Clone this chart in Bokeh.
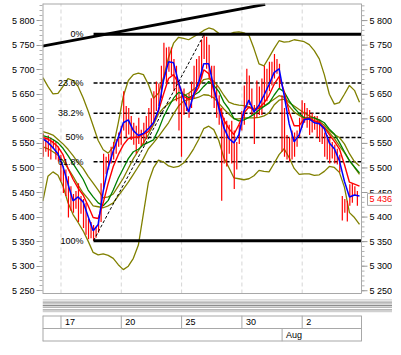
from bokeh.plotting import figure
from bokeh.models import Range1d, FixedTicker, LinearAxis
from bokeh.layouts import column
from bokeh.embed import file_html
from bokeh.resources import INLINE
from bokeh.core.properties import value

FONT = "Liberation Sans"

# ---------------- data ----------------
# time axis in trading days from 16 Jul (day 0) ; day boundaries labelled below
date_ticks = [1, 4, 7, 10, 13]
date_labels = ["17", "20", "25", "30", "2"]
month_ticks = [12]
month_labels = ["Aug"]
price_ticks = [5250, 5300, 5350, 5400, 5450, 5500, 5550, 5600, 5650, 5700, 5750, 5800]

bars_per_day = 8
first_bar_day = 0.12
bar_high = [5570, 5562, 5566, 5562, 5557, 5553, 5543, 5527, 5503, 5497,
            5483, 5463, 5447, 5453, 5469, 5443, 5437, 5429, 5397, 5390,
            5384, 5380, 5394, 5469, 5529, 5523, 5529, 5543, 5553, 5559,
            5572, 5586, 5656, 5626, 5622, 5606, 5592, 5586, 5602, 5578,
            5592, 5606, 5622, 5642, 5656, 5676, 5672, 5708, 5755, 5745,
            5747, 5745, 5722, 5708, 5676, 5648, 5662, 5648, 5652, 5676,
            5708, 5722, 5728, 5761, 5772, 5767, 5751, 5708, 5708, 5668,
            5648, 5622, 5602, 5596, 5588, 5596, 5576, 5553, 5588, 5616,
            5668, 5702, 5688, 5662, 5628, 5678, 5666, 5682, 5708, 5702,
            5716, 5716, 5732, 5722, 5712, 5648, 5622, 5567, 5562, 5576,
            5572, 5576, 5602, 5638, 5632, 5622, 5618, 5612, 5606, 5606,
            5598, 5586, 5572, 5567, 5562, 5553, 5547, 5539, 5527, 5443,
            5437, 5433, 5467, 5469, 5463, 5453]
bar_low = [5523, 5533, 5523, 5517, 5539, 5517, 5513, 5473, 5449, 5443,
           5399, 5413, 5409, 5417, 5390, 5407, 5378, 5364, 5355, 5357,
           5352, 5358, 5368, 5390, 5457, 5487, 5497, 5509, 5517, 5529,
           5543, 5547, 5576, 5562, 5568, 5557, 5547, 5529, 5549, 5543,
           5549, 5559, 5582, 5588, 5596, 5616, 5626, 5642, 5682, 5672,
           5696, 5688, 5656, 5636, 5576, 5523, 5608, 5616, 5602, 5622,
           5642, 5656, 5676, 5682, 5722, 5702, 5682, 5642, 5622, 5602,
           5588, 5433, 5509, 5503, 5529, 5509, 5457, 5497, 5549, 5576,
           5588, 5622, 5628, 5608, 5549, 5602, 5608, 5608, 5628, 5636,
           5656, 5668, 5682, 5692, 5662, 5533, 5523, 5517, 5513, 5517,
           5523, 5543, 5562, 5582, 5592, 5582, 5567, 5572, 5578, 5562,
           5553, 5549, 5523, 5517, 5509, 5519, 5509, 5507, 5491, 5393,
           5409, 5391, 5423, 5429, 5443, 5423]
last_close = 5436

line_start_day = 0.1
line_step_day = 0.25
ma_fast = [5559, 5552, 5541, 5529, 5503, 5467, 5433, 5441, 5431, 5401,
           5372, 5385, 5453, 5501, 5535, 5562, 5592, 5598, 5576, 5566,
           5570, 5580, 5592, 5618, 5678, 5716, 5714, 5674, 5640, 5614,
           5650, 5674, 5712, 5712, 5664, 5622, 5582, 5560, 5551, 5568,
           5616, 5638, 5614, 5628, 5648, 5670, 5694, 5702, 5648, 5590,
           5553, 5568, 5598, 5600, 5592, 5590, 5580, 5551, 5539, 5515,
           5473, 5441, 5445, 5443]
ma_mid = [5562, 5559, 5552, 5543, 5527, 5499, 5477, 5459, 5445, 5423,
          5399, 5397, 5429, 5469, 5503, 5527, 5547, 5560, 5562, 5563,
          5569, 5574, 5592, 5616, 5650, 5682, 5690, 5672, 5646, 5640,
          5648, 5664, 5700, 5692, 5658, 5628, 5598, 5580, 5568, 5588,
          5612, 5624, 5618, 5622, 5632, 5648, 5670, 5686, 5656, 5614,
          5586, 5586, 5600, 5602, 5596, 5593, 5582, 5568, 5554, 5539,
          5507, 5471, 5467, 5463]
ma_slow = [5566, 5563, 5558, 5551, 5540, 5525, 5509, 5493, 5477, 5455,
           5441, 5429, 5423, 5434, 5455, 5479, 5499, 5519, 5533, 5538,
           5547, 5552, 5557, 5578, 5604, 5624, 5642, 5654, 5650, 5643,
           5648, 5654, 5666, 5676, 5668, 5656, 5634, 5620, 5601, 5596,
           5598, 5603, 5609, 5618, 5625, 5632, 5648, 5662, 5655, 5637,
           5622, 5611, 5602, 5602, 5602, 5598, 5592, 5579, 5569, 5552,
           5533, 5515, 5502, 5490]
band_outer_upper = [5684, 5666, 5651, 5652, 5666, 5682, 5678, 5666, 5643, 5616,
                    5586, 5556, 5537, 5530, 5543, 5592, 5646, 5678, 5690, 5693,
                    5690, 5670, 5642, 5652, 5684, 5725, 5754, 5766, 5764, 5761,
                    5767, 5773, 5780, 5785, 5782, 5774, 5772, 5772, 5776, 5777,
                    5775, 5770, 5743, 5712, 5708, 5725, 5743, 5759, 5756, 5757,
                    5761, 5759, 5757, 5751, 5739, 5722, 5690, 5650, 5630, 5633,
                    5650, 5668, 5658, 5634]
band_outer_lower = [5433, 5483, 5492, 5485, 5463, 5429, 5405, 5389, 5372, 5351,
                    5328, 5323, 5325, 5322, 5316, 5303, 5293, 5300, 5316, 5343,
                    5407, 5471, 5500, 5516, 5512, 5504, 5501, 5503, 5510, 5523,
                    5539, 5558, 5580, 5585, 5578, 5556, 5521, 5501, 5480, 5478,
                    5476, 5478, 5484, 5495, 5493, 5492, 5509, 5527, 5539, 5521,
                    5499, 5487, 5488, 5488, 5485, 5486, 5493, 5503, 5501, 5491,
                    5461, 5409, 5399, 5385]
band_inner_upper = [5574, 5571, 5567, 5558, 5549, 5538, 5525, 5511, 5499, 5483,
                    5469, 5455, 5439, 5441, 5447, 5463, 5479, 5499, 5519, 5535,
                    5551, 5568, 5588, 5610, 5622, 5631, 5638, 5642, 5647, 5652,
                    5660, 5668, 5680, 5682, 5677, 5664, 5648, 5634, 5630, 5628,
                    5627, 5625, 5621, 5622, 5626, 5633, 5640, 5647, 5644, 5633,
                    5626, 5619, 5612, 5606, 5602, 5595, 5587, 5576, 5568, 5562,
                    5549, 5529, 5513, 5504]
band_inner_lower = [5543, 5539, 5533, 5526, 5515, 5499, 5483, 5465, 5449, 5437,
                    5423, 5421, 5419, 5423, 5429, 5443, 5457, 5471, 5487, 5503,
                    5519, 5539, 5551, 5564, 5578, 5592, 5610, 5626, 5636, 5639,
                    5641, 5644, 5649, 5648, 5643, 5632, 5620, 5610, 5600, 5600,
                    5602, 5602, 5602, 5603, 5606, 5612, 5628, 5638, 5640, 5626,
                    5614, 5607, 5601, 5599, 5596, 5591, 5583, 5572, 5560, 5545,
                    5531, 5515, 5501, 5487]

fib_ratios = [0.0, 0.236, 0.382, 0.5, 0.618, 1.0]
fib_labels = ["0%", "23.6%", "38.2%", "50%", "61.8%", "100%"]

trend_day = [0.08, 11.16]
trend_price = [5748, 5833]

# ---------------- derived positions ----------------
bar_day = [first_bar_day + i / bars_per_day for i in range(len(bar_high))]
line_day = [line_start_day + i * line_step_day for i in range(len(ma_fast))]
i_lo = bar_low.index(min(bar_low))
i_hi = bar_high.index(max(bar_high))
fib_low, fib_high = bar_low[i_lo], bar_high[i_hi]
fib_low_day, fib_high_day = bar_day[i_lo], bar_day[i_hi]
fib_levels = [fib_high - r * (fib_high - fib_low) for r in fib_ratios]


def fmt(v):
    return f"{v:,}".replace(",", " ")


# ---------------- layout geometry ----------------
W = 392
LB, RB = 42, 31                     # left axis width / right label strip width
TOP = 3
PLOT_H = 290                        # height of the visible plot box
day_start, day_end = 0.08, 15.95
plot_bottom, plot_top = 5244.4, 5834.8
frame_w = W - LB - RB
px_per_day = frame_w / (day_end - day_start)
units_per_px = (plot_top - plot_bottom) / PLOT_H
GRAY = "#a8a8a8"
TICK = "#9a9a9a"

# frames run to the right canvas edge so the right-hand price scale
# (and the red last-price tag) are drawn with the chart's own scales
xr = Range1d(day_start, day_end + RB / px_per_day)
yr = Range1d(plot_bottom - 3 * units_per_px, plot_top)

# ---------------- main chart ----------------
p = figure(width=W, height=TOP + PLOT_H + 3, x_range=xr, y_range=yr, output_backend="svg",
           toolbar_location=None, x_axis_location=None, y_axis_location=None,
           min_border_left=LB, min_border_right=0, min_border_top=TOP, min_border_bottom=0,
           background_fill_color="white", border_fill_color="white")
p.outline_line_color = None
p.grid.visible = False

# vertical dashed day grid
p.segment(x0=date_ticks, x1=date_ticks, y0=[plot_bottom] * len(date_ticks),
          y1=[plot_top] * len(date_ticks), line_color="#d6d6d6", line_dash="4 3", line_width=1)

minor = list(range(5250, 5831, 10))
ax = LinearAxis(ticker=FixedTicker(ticks=price_ticks, minor_ticks=minor),
                major_label_overrides={t: fmt(t) for t in price_ticks},
                axis_line_color=None,
                major_tick_line_color=TICK, minor_tick_line_color="#b0b0b0",
                major_tick_out=6, major_tick_in=0, minor_tick_out=3, minor_tick_in=0,
                major_label_text_font=FONT, major_label_text_font_size="9px",
                major_label_text_color="black", major_label_standoff=2)
p.add_layout(ax, "left")

# dashed fibonacci retracement levels
mid_levels = fib_levels[1:-1]
p.segment(x0=[fib_low_day] * len(mid_levels), x1=[day_end] * len(mid_levels),
          y0=mid_levels, y1=mid_levels, line_color="black", line_width=1.5, line_dash="4 2")

# bands
olive = "#808000"
for band in (band_outer_upper, band_outer_lower, band_inner_upper, band_inner_lower):
    p.line(line_day, band, line_color=olive, line_width=1.3)

# price bars
p.segment(x0=bar_day, x1=bar_day, y0=bar_low, y1=bar_high, line_color="#ff0000", line_width=1.2)

# moving averages
p.line(line_day, ma_slow, line_color="#008000", line_width=1.3)
p.line(line_day, ma_mid, line_color="#ff0000", line_width=1.4)
p.line(line_day, ma_fast, line_color="#0000ff", line_width=1.5)

# solid 0% / 100% lines
p.segment(x0=[fib_low_day, fib_low_day], x1=[day_end, day_end],
          y0=[fib_levels[0], fib_levels[-1]], y1=[fib_levels[0], fib_levels[-1]],
          line_color="black", line_width=3)
# retracement diagonal
p.line([fib_low_day, fib_high_day], [fib_low, fib_high], line_color="black",
       line_width=1, line_dash="3 2")
# trend line
p.line(trend_day, trend_price, line_color="black", line_width=3)

p.text(x=[fib_low_day] * len(fib_levels), y=fib_levels, text=fib_labels,
       x_offset=-10, text_align="right", text_baseline="middle",
       text_font=value(FONT), text_font_size=value("9px"), text_color="black")

# white strip covering anything beyond the plot's right edge
p.quad(left=[day_end], right=[xr.end], bottom=[yr.start], top=[yr.end],
       fill_color="white", line_color=None)

# plot box border
p.segment(x0=[day_start, day_start], x1=[day_end, day_end], y0=[plot_top, plot_bottom],
          y1=[plot_top, plot_bottom], line_color=GRAY, line_width=[2, 1])
p.segment(x0=[day_start, day_end], x1=[day_start, day_end], y0=[plot_bottom, plot_bottom],
          y1=[plot_top, plot_top], line_color=GRAY, line_width=[2, 1])

# right-hand price scale
p.segment(x0=[day_end] * len(minor), x1=[day_end + 3 / px_per_day] * len(minor),
          y0=minor, y1=minor, line_color="#b0b0b0", line_width=1)
p.segment(x0=[day_end] * len(price_ticks), x1=[day_end + 6 / px_per_day] * len(price_ticks),
          y0=price_ticks, y1=price_ticks, line_color=TICK, line_width=1)
p.text(x=[day_end] * len(price_ticks), y=price_ticks, text=[fmt(t) for t in price_ticks],
       x_offset=8, text_align="left", text_baseline="middle",
       text_font=value(FONT), text_font_size=value("9px"), text_color="black")

# red last-price tag
p.rect(x=[day_end + 18.5 / px_per_day], y=[last_close], width=25, height=12,
       width_units="screen", height_units="screen", fill_color="white", line_color=GRAY)
p.text(x=[day_end], y=[last_close], text=[fmt(last_close)], x_offset=8,
       text_align="left", text_baseline="middle",
       text_font=value(FONT), text_font_size=value("9px"), text_color="#ff0000")

# ---------------- separator bar ----------------
s = figure(width=W, height=17, x_range=Range1d(0, W), y_range=Range1d(17, 0),
           output_backend="svg", toolbar_location=None, x_axis_location=None,
           y_axis_location=None, min_border=0, border_fill_color="white")
s.outline_line_color = None
s.grid.visible = False
sep_y = [3.4, 5.6, 7.4, 9.1, 10.8, 13.3, 15.0]
sep_c = ["#d0d0d0", "#a0a0a0", "#b8b8b8", "#8c8c8c", "#b8b8b8", "#a0a0a0", "#d0d0d0"]
s.segment(x0=[0] * len(sep_y), x1=[W] * len(sep_y), y0=sep_y, y1=sep_y,
          line_color=sep_c, line_width=1.3)

# ---------------- date panel ----------------
dp = figure(width=W, height=34, x_range=xr, y_range=Range1d(0, 2),
            output_backend="svg", toolbar_location=None, x_axis_location=None,
            y_axis_location=None, min_border_left=LB, min_border_right=0,
            min_border_top=2, min_border_bottom=6, border_fill_color="white")
dp.outline_line_color = None
dp.grid.visible = False
# cell borders
dp.segment(x0=[day_start] * 3, x1=[day_end] * 3, y0=[0, 1, 2], y1=[0, 1, 2],
           line_color=GRAY, line_width=[2, 1, 2])
dp.segment(x0=[day_start, day_end], x1=[day_start, day_end], y0=[0, 0], y1=[2, 2],
           line_color=GRAY, line_width=[2, 1])
dp.segment(x0=date_ticks, x1=date_ticks, y0=[1] * len(date_ticks), y1=[2] * len(date_ticks),
           line_color=GRAY, line_width=1)
dp.segment(x0=month_ticks, x1=month_ticks, y0=[0] * len(month_ticks), y1=[1] * len(month_ticks),
           line_color=GRAY, line_width=1)
dp.text(x=date_ticks, y=[1.5] * len(date_ticks), text=date_labels, x_offset=4,
        text_baseline="middle", text_font=value(FONT), text_font_size=value("9px"),
        text_color="black")
dp.text(x=month_ticks, y=[0.5] * len(month_ticks), text=month_labels, x_offset=4,
        text_baseline="middle", text_font=value(FONT), text_font_size=value("9px"),
        text_color="black")

layout = column(p, s, dp, spacing=0)
open("out.html", "w").write(file_html(layout, INLINE))
